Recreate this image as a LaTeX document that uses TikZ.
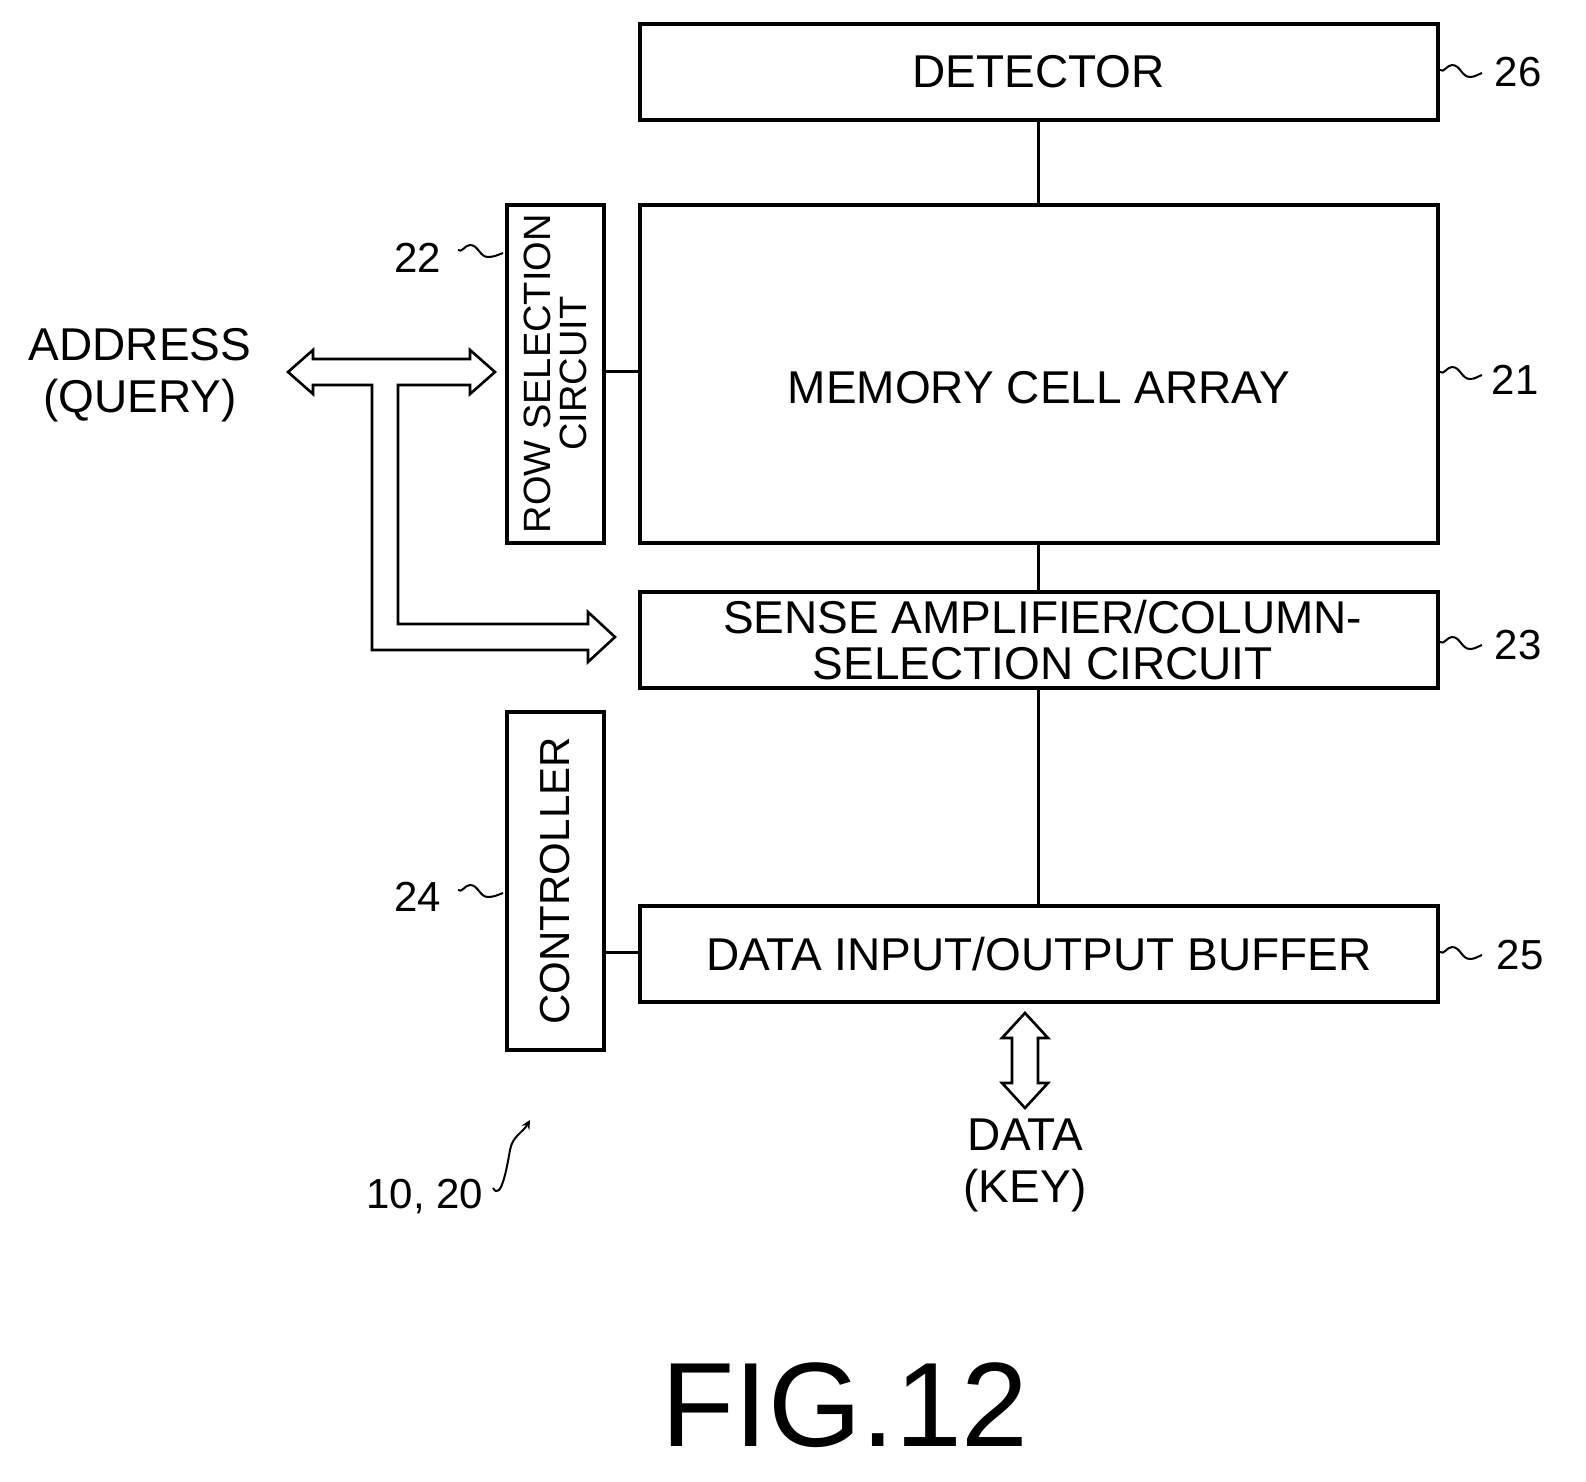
\documentclass[tikz,border=0pt]{standalone}
\usepackage{fontspec}
\setmainfont{Liberation Sans}
\begin{document}
\begin{tikzpicture}[x=0.5pt,y=-0.5pt,line width=1.5pt,
  box/.style={draw,line width=1.8pt,inner sep=0pt,anchor=north west},
  txt/.style={font=\fontsize{23}{24}\selectfont,align=center},
  num/.style={font=\fontsize{21}{22}\selectfont},
  sq/.style={line width=1pt}]
\useasboundingbox (0,0) rectangle (1586,1482);
\node[box,minimum width=399pt,minimum height=48pt] (det) at (638,22) {};
\node[txt] at (det.center) {DETECTOR};
\node[box,minimum width=399pt,minimum height=169pt] (mem) at (638,203) {};
\node[txt] at ([yshift=-7pt]mem.center) {MEMORY CELL ARRAY};
\node[box,minimum width=48.5pt,minimum height=169pt] (row) at (505,203) {};
\node[rotate=90,font=\fontsize{19}{18}\selectfont,align=center] at (row.center) {ROW SELECTION\\CIRCUIT};
\node[box,minimum width=399pt,minimum height=48pt] (sa) at (638,590) {};
\node[font=\fontsize{23}{23}\selectfont,align=center] at ([xshift=2pt]sa.center) {SENSE AMPLIFIER/COLUMN-\\SELECTION CIRCUIT};
\node[box,minimum width=48.5pt,minimum height=169pt] (ctl) at (505,710) {};
\node[rotate=90,font=\fontsize{21}{22}\selectfont] at (ctl.center) {CONTROLLER};
\node[box,minimum width=399pt,minimum height=48pt] (dio) at (638,904) {};
\node[txt] at (dio.center) {DATA INPUT/OUTPUT BUFFER};

\draw (det.south) -- (mem.north);
\draw (mem.south) -- (sa.north);
\draw (sa.south) -- (dio.north);
\draw (row.east |- 0,372) -- (mem.west |- 0,372);
\draw (ctl.east |- 0,952) -- (dio.west |- 0,952);

% hollow bus arrows
\draw[line width=1.3pt] (288,372) -- (313,350) -- (313,359) -- (470,359) -- (470,350) -- (495,372)
  -- (470,394) -- (470,385) -- (398,385) -- (398,624) -- (588,624) -- (588,612) -- (615,637)
  -- (588,662) -- (588,650) -- (372,650) -- (372,385) -- (313,385) -- (313,394) -- cycle;
\draw[line width=1.3pt] (1025,1013) -- (1002,1038) -- (1012,1038) -- (1012,1083) -- (1002,1083)
  -- (1025,1108) -- (1048,1083) -- (1038,1083) -- (1038,1038) -- (1048,1038) -- cycle;

\node[font=\fontsize{23}{26}\selectfont,align=center] (addr) at (140,375) {ADDRESS\\(QUERY)};
\node[font=\fontsize{23}{26}\selectfont,align=center] (data) at (1025,1165) {DATA\\(KEY)};

% reference numerals
\node[num] (n26) at (1518,72) {26};
\node[num] (n21) at (1515,380) {21};
\node[num] (n23) at (1518,645) {23};
\node[num] (n25) at (1520,955) {25};
\node[num] (n22) at (418,258) {22};
\node[num] (n24) at (418,897) {24};
\node[num] (n10) at (425,1197) {10,\ 20};
\foreach \x/\y in {1440/70,1440/372,1440/642,1440/952} {
  \draw[sq] (\x,\y) to[out=-40,in=180] (\x+12,\y-5) to[out=0,in=180] (\x+30,\y+7) to[out=0,in=200] (\x+42,\y+3);
}
\foreach \y in {250,890} {
  \draw[sq] (458,\y) to[out=-40,in=180] (470,\y-5) to[out=0,in=180] (488,\y+7) to[out=0,in=200] (503,\y+3);
}
\draw[sq,-stealth] (493,1188) to[out=-60,in=-100] (510,1150) to[out=80,in=-120] (530,1120);

\node[font=\fontsize{60}{60}\selectfont] (fig) at (845,1405) {FIG.12};
\end{tikzpicture}
\end{document}
